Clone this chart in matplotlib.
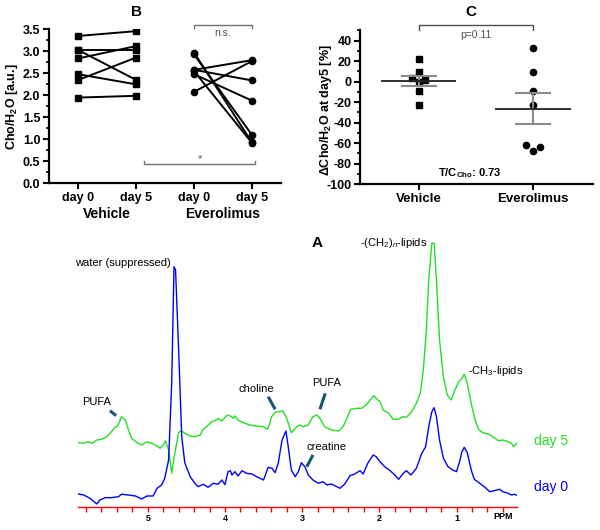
import numpy as np
import matplotlib
matplotlib.use('Agg')
import matplotlib.pyplot as plt
from matplotlib.ticker import MultipleLocator

plt.rcParams['font.family'] = ['Liberation Sans', 'DejaVu Sans']
plt.rcParams['mathtext.fontset'] = 'custom'
plt.rcParams['mathtext.rm'] = 'Liberation Sans'
plt.rcParams['mathtext.bf'] = 'Liberation Sans:bold'
plt.rcParams['mathtext.it'] = 'Liberation Sans:italic'
plt.rcParams['axes.unicode_minus'] = False

# ---- panel B: Cho/H2O per animal, day 0 -> day 5
veh_day0 = [3.35, 3.03, 3.03, 2.84, 2.48, 2.35, 1.95]
veh_day5 = [3.46, 3.03, 2.35, 3.12, 2.25, 2.86, 1.99]
eve_day0 = [2.08, 2.58, 2.58, 2.48, 2.93, 2.55, 2.97]
eve_day5 = [2.78, 2.80, 2.34, 1.88, 1.10, 0.92, 0.93]
b_ticklabels = ['day 0', 'day 5', 'day 0', 'day 5']
b_groups = ['Vehicle', 'Everolimus']

# ---- panel C: change of Cho/H2O at day 5 [%]
c_groups = ['Vehicle', 'Everolimus']
veh_change = [21.7, 9.9, 3.3, 2.0, -0.5, -9.3, -22.4]
eve_change = [33, 9, -9, -23, -62, -64, -68]
veh_jitter = [0, 0, -0.06, 0.06, 0, 0, 0]
eve_jitter = [0, 0, 0, 0, -0.06, 0.06, 0]

# ---- panel A: spectra (ppm, intensity a.u.)
ppm_day0 = [5.90, 5.83, 5.75, 5.66, 5.62, 5.55, 5.47, 5.38, 5.34, 5.25, 5.16, 5.08, 5.01,
            4.93, 4.88, 4.82, 4.78, 4.73, 4.69, 4.66, 4.64, 4.60, 4.56, 4.52, 4.45, 4.39,
            4.35, 4.28, 4.22, 4.15, 4.09, 4.04, 4.00, 3.96, 3.93, 3.91, 3.87, 3.83, 3.78,
            3.72, 3.65, 3.59, 3.50, 3.44, 3.39, 3.35, 3.31, 3.26, 3.21, 3.18, 3.14, 3.09,
            3.05, 3.01, 2.96, 2.92, 2.86, 2.79, 2.73, 2.68, 2.62, 2.55, 2.51, 2.45, 2.38,
            2.32, 2.25, 2.21, 2.15, 2.08, 2.04, 1.99, 1.93, 1.86, 1.80, 1.75, 1.69, 1.65,
            1.59, 1.52, 1.45, 1.40, 1.36, 1.32, 1.29, 1.26, 1.22, 1.17, 1.11, 1.05, 1.00,
            0.96, 0.93, 0.90, 0.86, 0.81, 0.77, 0.70, 0.64, 0.57, 0.51, 0.44, 0.40, 0.33,
            0.29, 0.25, 0.22]
int_day0 = [12.7, 11.7, 8.4, 2.7, 6.7, 9.0, 9.0, 10.0, 12.4, 11.7, 10.7, 7.7, 10.7,
            10.7, 18.4, 21.7, 28.4, 46.7, 123.7, 240.0, 236.7, 156.7, 70.0, 43.7, 30.0, 23.4,
            20.0, 22.4, 19.4, 23.4, 22.4, 26.7, 22.0, 35.0, 36.0, 31.7, 35.0, 30.7, 36.0,
            33.4, 32.7, 30.0, 26.7, 39.4, 38.4, 34.0, 43.4, 66.7, 75.7, 60.0, 36.7, 30.0,
            35.0, 44.0, 39.4, 31.7, 26.7, 23.4, 25.0, 21.7, 22.7, 20.0, 18.4, 22.4, 31.0,
            32.7, 36.0, 32.7, 43.4, 51.7, 50.0, 45.0, 40.0, 36.0, 31.7, 27.4, 33.4, 36.0,
            31.7, 38.4, 53.4, 60.0, 80.0, 95.0, 99.0, 90.0, 66.7, 48.4, 40.0, 36.7, 35.0,
            45.0, 55.0, 59.4, 54.0, 36.7, 27.4, 23.4, 20.0, 15.0, 16.0, 17.4, 15.0, 13.4,
            11.7, 12.4, 11.4]

ppm_day5 = [5.90, 5.83, 5.78, 5.72, 5.66, 5.60, 5.53, 5.47, 5.43, 5.39, 5.34, 5.29, 5.25,
            5.21, 5.14, 5.08, 5.01, 4.95, 4.88, 4.84, 4.80, 4.77, 4.73, 4.69, 4.65, 4.60,
            4.57, 4.52, 4.45, 4.39, 4.32, 4.29, 4.24, 4.17, 4.11, 4.09, 4.04, 4.00, 3.96,
            3.93, 3.89, 3.87, 3.83, 3.76, 3.68, 3.59, 3.50, 3.45, 3.42, 3.40, 3.35, 3.25,
            3.20, 3.14, 3.07, 3.03, 2.99, 2.92, 2.86, 2.81, 2.77, 2.71, 2.62, 2.53, 2.47,
            2.42, 2.37, 2.29, 2.23, 2.17, 2.10, 2.07, 2.02, 1.99, 1.95, 1.88, 1.82, 1.76,
            1.69, 1.65, 1.58, 1.52, 1.47, 1.43, 1.39, 1.36, 1.32, 1.29, 1.26, 1.22, 1.17,
            1.12, 1.07, 1.02, 0.97, 0.93, 0.90, 0.86, 0.81, 0.76, 0.71, 0.66, 0.59, 0.53,
            0.46, 0.40, 0.33, 0.29, 0.26, 0.22]
int_day5 = [64.0, 63.4, 65.0, 63.4, 66.7, 67.4, 70.0, 75.0, 79.0, 80.7, 90.0, 86.7, 76.7,
            68.4, 64.0, 61.7, 65.0, 63.4, 60.7, 58.4, 61.7, 65.7, 56.7, 33.4, 53.4, 74.0,
            76.0, 73.4, 70.7, 70.0, 71.7, 76.7, 80.0, 85.0, 86.7, 88.4, 85.7, 89.4, 91.7,
            90.7, 88.4, 90.7, 86.7, 84.0, 81.7, 80.7, 80.0, 77.4, 82.7, 89.4, 94.4, 95.7,
            88.4, 74.0, 80.0, 81.7, 80.0, 81.7, 90.0, 91.7, 88.4, 80.0, 76.7, 75.7, 80.0,
            88.4, 97.4, 98.4, 98.4, 101.7, 108.4, 111.0, 106.7, 105.0, 96.7, 93.4, 87.4, 87.4,
            90.0, 89.4, 95.0, 103.4, 113.4, 136.7, 176.7, 226.7, 263.4, 263.4, 226.7, 166.7, 130.0,
            111.7, 106.7, 116.7, 125.0, 128.4, 132.4, 123.4, 103.4, 86.7, 76.7, 74.0, 72.7, 70.0,
            66.0, 66.7, 65.0, 63.4, 60.0, 63.4]

fig = plt.figure(figsize=(6, 5.3), dpi=100)

# ================= B =================
axB = fig.add_axes([0.0822, 0.654, 0.386, 0.2906])
for a, b in zip(veh_day0, veh_day5):
    axB.plot([1, 2], [a, b], color='black', lw=1.4, marker='s', ms=4.5)
for a, b in zip(eve_day0, eve_day5):
    axB.plot([3, 4], [a, b], color='black', lw=1.4, marker='o', ms=4.5)
axB.set_xlim(0.5, 4.5)
axB.set_ylim(0, 3.5)
axB.yaxis.set_major_locator(MultipleLocator(0.5))
axB.yaxis.set_minor_locator(MultipleLocator(0.25))
axB.yaxis.set_major_formatter(matplotlib.ticker.FormatStrFormatter('%.1f'))
axB.set_xticks([1, 2, 3, 4])
axB.set_xticklabels(b_ticklabels, fontsize=9, fontweight='bold')
for lab in axB.get_yticklabels():
    lab.set_fontweight('bold')
    lab.set_fontsize(9)
axB.tick_params(width=1.5, length=4, pad=2.5)
axB.tick_params(which='minor', width=1.2, length=2.5)
for s in ['top', 'right']:
    axB.spines[s].set_visible(False)
for s in ['left', 'bottom']:
    axB.spines[s].set_linewidth(1.6)
axB.set_ylabel('Cho/H$_\\mathbf{2}$O [a.u.]', fontsize=9, fontweight='bold')
axB.yaxis.set_label_coords(-0.127, 0.5)
for i, g in enumerate(b_groups):
    axB.text(1.5 + 2 * i, -0.2, g, transform=axB.get_xaxis_transform(),
             ha='center', va='center', fontsize=10, fontweight='bold')
# brackets
gcol = '#707070'
axB.plot([3, 3, 4, 4], [3.53, 3.6, 3.6, 3.53], color=gcol, lw=1, clip_on=False)
axB.text(3.5, 3.42, 'n.s.', ha='center', va='center', fontsize=7.5, color='#505050')
axB.plot([2.14, 2.14, 4.05, 4.05], [0.5, 0.45, 0.45, 0.5], color=gcol, lw=1)
axB.text(3.1, 0.55, '*', ha='center', va='center', fontsize=8, color='#505050')
fig.text(136 / 600, 1 - 12 / 530, 'B', ha='center', va='center', fontsize=11, fontweight='bold')

# ================= C =================
axC = fig.add_axes([0.6, 0.6523, 0.3883, 0.2904])
xv = [0 + j for j in veh_jitter]
xe = [1 + j for j in eve_jitter]
axC.plot(xv, veh_change, 's', color='black', ms=4.5, ls='none')
axC.plot(xe, eve_change, 'o', color='black', ms=4.5, ls='none')
for i, vals in enumerate([veh_change, eve_change]):
    m = np.mean(vals)
    sem = np.std(vals, ddof=1) / np.sqrt(len(vals))
    axC.errorbar(i, m, yerr=sem, color='#8a8a8a', lw=1.5, capsize=13, capthick=1.5, fmt='none')
    axC.hlines(m, i - 0.33, i + 0.33, color='#222222', lw=1.3)
axC.set_xlim(-0.51, 1.52)
axC.set_ylim(-100, 50)
axC.yaxis.set_major_locator(MultipleLocator(20))
axC.yaxis.set_minor_locator(MultipleLocator(10))
axC.set_xticks([0, 1])
axC.set_xticklabels(c_groups, fontsize=9.5, fontweight='bold')
for lab in axC.get_yticklabels():
    lab.set_fontweight('bold')
    lab.set_fontsize(9)
axC.tick_params(width=1.5, length=4, pad=2)
axC.tick_params(which='minor', width=1.2, length=2.5)
for s in ['top', 'right']:
    axC.spines[s].set_visible(False)
for s in ['left', 'bottom']:
    axC.spines[s].set_linewidth(1.6)
axC.set_ylabel('\u0394Cho/H$_\\mathbf{2}$O at day5 [%]', fontsize=9, fontweight='bold')
axC.yaxis.set_label_coords(-0.112, 0.48)
axC.plot([0, 0, 1, 1], [50.4, 55.3, 55.3, 50.4], color='#505050', lw=1, clip_on=False)
axC.text(0.5, 45.6, 'p=0.11', ha='center', va='center', fontsize=7.5, color='#505050')
axC.text(0.45, -88.7, 'T/C$_\\mathbf{Cho}$: 0.73', ha='center', va='center',
         fontsize=8, fontweight='bold')
fig.text(471 / 600, 1 - 12 / 530, 'C', ha='center', va='center', fontsize=11, fontweight='bold')

# ================= A =================
axA = fig.add_axes([0.1305, 0.044, 0.7307, 0.5094])
axA.plot(ppm_day5, int_day5, color='#22e022', lw=1.0)
axA.plot(ppm_day0, int_day0, color='#0000ff', lw=1.0)
axA.set_xlim(5.9, 0.22)
axA.set_ylim(0, 270)
for s in ['top', 'right', 'left']:
    axA.spines[s].set_visible(False)
axA.spines['bottom'].set_color('red')
axA.spines['bottom'].set_linewidth(1.0)
axA.set_yticks([])
axA.xaxis.set_major_locator(MultipleLocator(1))
axA.xaxis.set_minor_locator(MultipleLocator(0.2))
axA.tick_params(axis='x', which='both', color='red', length=3.5, width=1.0, pad=2)
axA.set_xticks([5, 4, 3, 2, 1])
axA.set_xticklabels(['5', '4', '3', '2', '1'], fontsize=6.5, fontweight='bold')
axA.text(0.39, -10, 'PPM', ha='center', va='center', fontsize=6.5, fontweight='bold')

axA.text(5.32, 244, 'water (suppressed)', ha='center', va='center', fontsize=8)
axA.text(1.82, 263.4, '-(CH$_2$)$_\\mathit{n}$-lipids', ha='center', va='center', fontsize=8)
axA.text(0.50, 136, '-CH$_3$-lipids', ha='center', va='center', fontsize=8)
pcol = '#1a5570'
notes = [('PUFA', 5.66, 104.4, 5.49, 96, 5.41, 91),
         ('choline', 3.59, 117.4, 3.44, 110, 3.35, 97.4),
         ('PUFA', 2.68, 124, 2.70, 113.4, 2.77, 97.4),
         ('creatine', 2.68, 59.4, 2.86, 51.7, 2.94, 40)]
for txt, tx, ty, x1, y1, x2, y2 in notes:
    axA.text(tx, ty, txt, ha='center', va='center', fontsize=8)
    axA.plot([x1, x2], [y1, y2], color=pcol, lw=2.2, solid_capstyle='butt')
axA.text(-0.22, 65.7, 'day 5', ha='center', va='center', fontsize=10, color='#22e022', clip_on=False)
axA.text(-0.22, 20, 'day 0', ha='center', va='center', fontsize=10, color='#0000ff', clip_on=False)
fig.text(317 / 600, 1 - 243 / 530, 'A', ha='center', va='center', fontsize=11, fontweight='bold')

fig.savefig('out.png', dpi=100)
